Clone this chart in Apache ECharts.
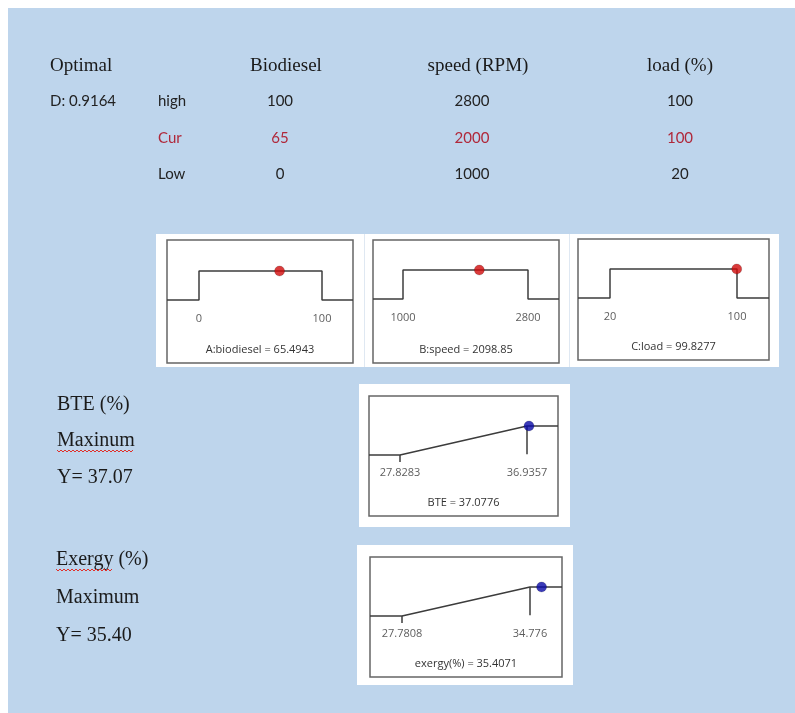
<!DOCTYPE html>
<html><head><meta charset="utf-8">
<script src="https://cdn.jsdelivr.net/npm/echarts@6/dist/echarts.min.js"></script>
<style>html,body{margin:0;padding:0;background:#fff}#c{width:795px;height:713px}</style>
</head><body><div id="c"></div>
<script>
// ---------------- data ----------------
const headerTitle = 'Optimal';
const headerCols = ['Biodiesel', 'speed (RPM)', 'load (%)'];
const desirabilityText = 'D: 0.9164';
const rowLabels = ['high', 'Cur', 'Low'];
const highVals = ['100', '2800', '100'];
const curVals = ['65', '2000', '100'];
const lowVals = ['0', '1000', '20'];

const factorNames = ['A:biodiesel', 'B:speed', 'C:load'];
const factorLow = [0, 1000, 20];
const factorHigh = [100, 2800, 100];
const factorOpt = [65.4943, 2098.85, 99.8277];
const factorLowLabels = ['0', '1000', '20'];
const factorHighLabels = ['100', '2800', '100'];

const respNames = ['BTE', 'exergy(%)'];
const respLow = [27.8283, 27.7808];
const respHigh = [36.9357, 34.776];
const respOpt = [37.0776, 35.4071];
const respLowLabels = ['27.8283', '27.7808'];
const respHighLabels = ['36.9357', '34.776'];

const respSideText = [['BTE (%)', 'Maxinum', 'Y= 37.07'], ['Exergy (%)', 'Maximum', 'Y= 35.40']];

// ---------------- layout ----------------
const BG = '#bed5ec';
const SERIF = '"Liberation Serif", "Times New Roman", serif';
const CAL = 'Lato, "Open Sans", sans-serif';
const SMALL = '"Open Sans", "Noto Sans", sans-serif';
const factorLayout = [
  {fx: 167, fy: 240, fw: 186, fh: 123, lowPx: 199, highPx: 322, zeroY: 300, oneY: 271},
  {fx: 373, fy: 240, fw: 186, fh: 123, lowPx: 403, highPx: 528, zeroY: 299, oneY: 270},
  {fx: 578, fy: 239, fw: 191, fh: 121, lowPx: 610, highPx: 737, zeroY: 298, oneY: 269}
];
const respLayout = [
  {fx: 369, fy: 396, fw: 189, fh: 120, lowPx: 400, highPx: 527, zeroY: 455, oneY: 426, white: [359, 384, 211, 143]},
  {fx: 370, fy: 557, fw: 192, fh: 120, lowPx: 402, highPx: 530, zeroY: 616, oneY: 587, white: [357, 545, 216, 140]}
];
const headerX = [286, 478, 680];
const valueX = [280, 472, 680];
const rowY = [101, 138, 174];
const sideX = [57, 56];
const sideY = [[405, 441, 478], [560, 598, 636]];

function xRange(low, high, L) {
  const k = (high - low) / (L.highPx - L.lowPx);
  const min = low - (L.lowPx - L.fx) * k;
  return [min, min + L.fw * k];
}
function yRange(L) {
  const k = 1 / (L.zeroY - L.oneY);
  const max = 1 + (L.oneY - L.fy) * k;
  return [max - L.fh * k, max, k];
}

const grids = [], xAxes = [], yAxes = [], series = [], elements = [];
const lineStyle = {color: '#3c3c3c', width: 1.5};

function addPanel(L, idx, low, high, opt, lowLab, highLab, caption, dotColor, ramp) {
  grids.push({left: L.fx, top: L.fy, width: L.fw, height: L.fh, show: true,
    borderColor: '#666666', borderWidth: 1.5, backgroundColor: '#ffffff'});
  const [xmin, xmax] = xRange(low, high, L);
  const [ymin, ymax, k] = yRange(L);
  xAxes.push({type: 'value', gridIndex: idx, min: xmin, max: xmax, show: false});
  yAxes.push({type: 'value', gridIndex: idx, min: ymin, max: ymax, show: false});
  const pts = ramp
    ? [[xmin, 0], [low, 0], [high, 1], [xmax, 1]]
    : [[xmin, 0], [low, 0], [low, 1], [high, 1], [high, 0], [xmax, 0]];
  const s = {type: 'line', xAxisIndex: idx, yAxisIndex: idx, data: pts, symbol: 'none',
    lineStyle: lineStyle, silent: true, animation: false, z: 3};
  if (ramp) {
    s.markLine = {silent: true, symbol: 'none', animation: false, label: {show: false},
      lineStyle: {color: '#3c3c3c', width: 1.5, type: 'solid'},
      data: [[{coord: [low, 0]}, {coord: [low, -7 * k]}], [{coord: [high, 1]}, {coord: [high, 0.03]}]]};
  }
  series.push(s);
  const labY = -(ramp ? 18 : 19) * k;
  series.push({type: 'scatter', xAxisIndex: idx, yAxisIndex: idx, symbolSize: 0, silent: true, animation: false,
    data: [[low, labY], [high, labY]],
    label: {show: true, position: 'inside', fontFamily: SMALL, fontSize: 11, color: '#333',
      formatter: p => (p.dataIndex === 0 ? lowLab : highLab)}});
  series.push({type: 'scatter', xAxisIndex: idx, yAxisIndex: idx, symbolSize: 10, silent: true, animation: false, z: 5,
    data: [[opt, 1]], itemStyle: {color: dotColor, borderColor: 'rgba(0,0,0,0.35)', borderWidth: 0.6}});
  elements.push({type: 'text', z: 50, x: L.fx + L.fw / 2, y: L.fy + L.fh - 13,
    style: {text: caption + ' = ' + String(opt), fill: '#333', font: '11px ' + SMALL, align: 'center', verticalAlign: 'middle'}});
}

// background
elements.push({type: 'rect', z: -20, shape: {x: 8, y: 8, width: 787, height: 705}, style: {fill: BG}});
// top white strip
elements.push({type: 'rect', z: -10, shape: {x: 156, y: 234, width: 623, height: 133}, style: {fill: '#ffffff'}});
[364, 569].forEach(x => elements.push({type: 'rect', z: -9, shape: {x: x, y: 234, width: 1, height: 133}, style: {fill: '#dfe8f2'}}));
respLayout.forEach(L => elements.push({type: 'rect', z: -10,
  shape: {x: L.white[0], y: L.white[1], width: L.white[2], height: L.white[3]}, style: {fill: '#ffffff'}}));

factorLayout.forEach((L, i) => addPanel(L, i, factorLow[i], factorHigh[i], factorOpt[i],
  factorLowLabels[i], factorHighLabels[i], factorNames[i], '#d10a0a', false));
respLayout.forEach((L, j) => addPanel(L, 3 + j, respLow[j], respHigh[j], respOpt[j],
  respLowLabels[j], respHighLabels[j], respNames[j], '#0a0aa8', true));

// header
elements.push({type: 'text', z: 50, x: 50, y: 66, style: {text: headerTitle, font: '19px ' + SERIF, fill: '#1a1a1a', verticalAlign: 'middle'}});
headerCols.forEach((t, i) => elements.push({type: 'text', z: 50, x: headerX[i], y: 66,
  style: {text: t, font: '19px ' + SERIF, fill: '#1a1a1a', align: 'center', verticalAlign: 'middle'}}));
elements.push({type: 'text', z: 50, x: 50, y: rowY[0], style: {text: desirabilityText, font: '15px ' + CAL, fill: '#222', verticalAlign: 'middle'}});
const rowVals = [highVals, curVals, lowVals];
const rowColors = ['#222', '#b0283a', '#222'];
rowLabels.forEach((t, r) => {
  elements.push({type: 'text', z: 50, x: 158, y: rowY[r], style: {text: t, font: '15px ' + CAL, fill: rowColors[r], verticalAlign: 'middle'}});
  rowVals[r].forEach((v, c) => elements.push({type: 'text', z: 50, x: valueX[c], y: rowY[r],
    style: {text: v, font: '15px ' + CAL, fill: rowColors[r], align: 'center', verticalAlign: 'middle'}}));
});

// side texts
const cv = document.createElement('canvas').getContext('2d');
cv.font = '20px ' + SERIF;
function zigzag(x0, x1, y) {
  const pts = [];
  let up = true;
  for (let x = x0; x <= x1; x += 2) { pts.push([x, y + (up ? -1 : 1)]); up = !up; }
  return pts;
}
respSideText.forEach((lines, j) => {
  lines.forEach((t, r) => elements.push({type: 'text', z: 50, x: sideX[j], y: sideY[j][r],
    style: {text: t, font: '20px ' + SERIF, fill: '#1a1a1a', verticalAlign: 'middle'}}));
});
// spell-check wavy underlines
[['Maxinum', sideX[0], sideY[0][1]], ['Exergy', sideX[1], sideY[1][0]]].forEach(([w, x, y]) => {
  const wd = cv.measureText(w).width;
  elements.push({type: 'polyline', z: 51, shape: {points: zigzag(x, x + wd, y + 10)}, style: {stroke: '#e0302a', lineWidth: 1, fill: null}});
});

const chart = echarts.init(document.getElementById('c'), null, {renderer: 'canvas'});
chart.setOption({
  animation: false,
  backgroundColor: '#ffffff',
  grid: grids, xAxis: xAxes, yAxis: yAxes, series: series,
  graphic: {elements: elements}
});
</script></body></html>
